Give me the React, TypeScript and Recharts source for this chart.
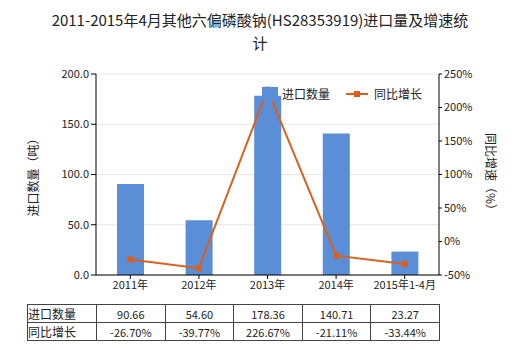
import React from 'react';
import { ComposedChart, Bar, Line, XAxis, YAxis, CartesianGrid } from 'recharts';

const years = ['2011年', '2012年', '2013年', '2014年', '2015年1-4月'];
const volume = [90.66, 54.6, 178.36, 140.71, 23.27];
const growth = [-26.7, -39.77, 226.67, -21.11, -33.44];
const leftTicks = [0, 50, 100, 150, 200];
const rightTicks = [-50, 0, 50, 100, 150, 200, 250];

const BAR = '#5a8ed6';
const LINE = '#dd5f1c';
const FONT = '"Noto Sans CJK SC", "Microsoft YaHei", sans-serif';

const data = years.map((y, i) => ({ name: y, volume: volume[i], growth: growth[i] }));

const SquareDot = (props: any) => {
  const { cx, cy } = props;
  if (cx == null || cy == null) return null;
  return <rect x={cx - 3} y={cy - 3} width={6} height={6} fill={LINE} />;
};

const LegendBox = () => (
  <div style={{ position: 'absolute', left: 262, top: 85, display: 'flex', alignItems: 'center', fontSize: 12, color: '#222', fontFamily: FONT }}>
    <span style={{ display: 'inline-block', width: 16, height: 14, background: BAR, marginRight: 4 }} />
    <span style={{ marginRight: 16 }}>进口数量</span>
    <svg width={22} height={10} style={{ marginRight: 6 }}>
      <line x1={0} y1={5} x2={22} y2={5} stroke={LINE} strokeWidth={2} />
      <rect x={8} y={2} width={6} height={6} fill={LINE} />
    </svg>
    <span>同比增长</span>
  </div>
);

const cell: React.CSSProperties = { border: '1px solid #444', padding: 0, height: 17, textAlign: 'center' };

const App: React.FC = () => {
  return (
    <div style={{ position: 'absolute', left: 0, top: 0, width: 520, height: 350, background: '#fff', fontFamily: FONT }}>
      <div style={{ position: 'absolute', left: 0, top: 8, width: 520, textAlign: 'center', fontSize: 15, lineHeight: '23px', color: '#222' }}>
        2011-2015年4月其他六偏磷酸钠(HS28353919)进口量及增速统
        <br />计
      </div>
      <div style={{ position: 'absolute', left: 0, top: 0 }}>
        <ComposedChart width={520} height={350} data={data} margin={{ top: 74, right: 0, bottom: 55, left: 0 }}>
          <CartesianGrid horizontal vertical={false} stroke="#e6e6e6" yAxisId="left" />
          <XAxis
            dataKey="name"
            height={20}
            tick={{ fontSize: 11, fill: '#222' }}
            axisLine={{ stroke: '#000' }}
            tickLine={{ stroke: '#000' }}
            tickSize={4}
            interval={0}
          />
          <YAxis
            yAxisId="left"
            width={96}
            domain={[0, 200]}
            ticks={leftTicks}
            tickFormatter={(v: number) => v.toFixed(1)}
            tick={{ fontSize: 11, fill: '#222' }}
            axisLine={{ stroke: '#000' }}
            tickLine={{ stroke: '#000' }}
            tickSize={5}
            label={{ value: '进口数量（吨）', angle: -90, position: 'insideLeft', offset: 34, style: { fontSize: 12, fill: '#222', textAnchor: 'middle' } }}
          />
          <YAxis
            yAxisId="right"
            orientation="right"
            width={81}
            domain={[-50, 250]}
            ticks={rightTicks}
            tickFormatter={(v: number) => `${v}%`}
            tick={{ fontSize: 11, fill: '#222' }}
            axisLine={{ stroke: '#000' }}
            tickLine={{ stroke: '#000' }}
            tickSize={3}
            label={{ value: '同比增速（%）', angle: 90, position: 'insideRight', offset: 30, style: { fontSize: 12, fill: '#222', textAnchor: 'middle' } }}
          />
          <Bar yAxisId="left" dataKey="volume" fill={BAR} barSize={27} isAnimationActive={false} />
          <Line yAxisId="right" type="linear" dataKey="growth" stroke={LINE} strokeWidth={2} dot={<SquareDot />} activeDot={false} isAnimationActive={false} />
        </ComposedChart>
      </div>
      <LegendBox />
      <table style={{ position: 'absolute', left: 27, top: 304, width: 412, borderCollapse: 'collapse', fontSize: 11, color: '#222', tableLayout: 'fixed' }}>
        <colgroup>
          <col style={{ width: 69 }} />
          {years.map((y) => (
            <col key={y} style={{ width: 68.6 }} />
          ))}
        </colgroup>
        <tbody>
          <tr>
            <td style={{ ...cell, textAlign: 'left', fontSize: 12 }}>进口数量</td>
            {volume.map((v, i) => (
              <td key={i} style={cell}>{v.toFixed(2)}</td>
            ))}
          </tr>
          <tr>
            <td style={{ ...cell, textAlign: 'left', fontSize: 12 }}>同比增长</td>
            {growth.map((v, i) => (
              <td key={i} style={cell}>{v.toFixed(2)}%</td>
            ))}
          </tr>
        </tbody>
      </table>
    </div>
  );
};

export default App;
